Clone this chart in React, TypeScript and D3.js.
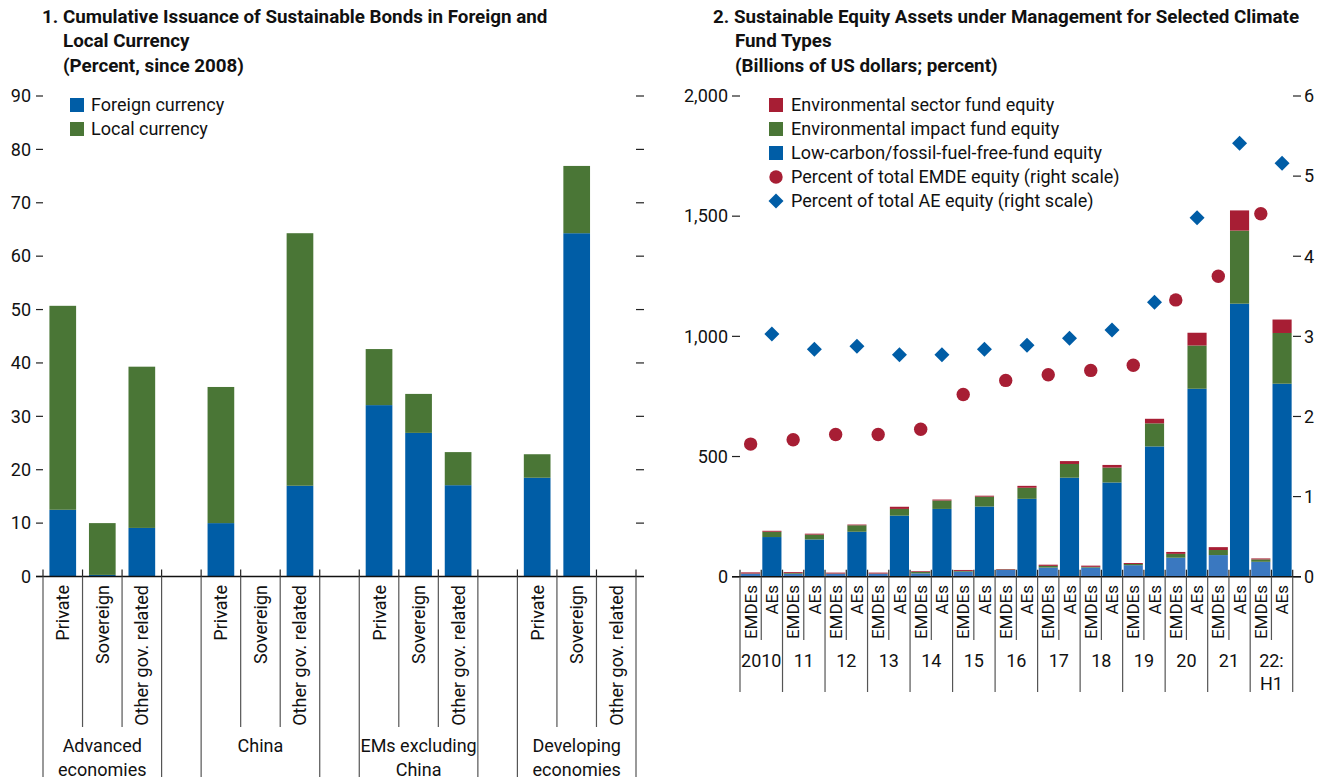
import React from "react";
import * as d3 from "d3";

// ---------- Panel 1 data ----------
const groups1 = ["Advanced economies", "China", "EMs excluding China", "Developing economies"];
const groupLines1 = [["Advanced", "economies"], ["China"], ["EMs excluding", "China"], ["Developing", "economies"]];
const issuers1 = ["Private", "Sovereign", "Other gov. related"];
// foreign currency, per group x issuer
const foreign1 = [
  [12.5, 0.3, 9.1],
  [10.0, 0, 17.0],
  [32.1, 26.9, 17.1],
  [18.5, 64.3, 0],
];
const local1 = [
  [38.2, 9.7, 30.2],
  [25.5, 0, 47.3],
  [10.5, 7.3, 6.2],
  [4.4, 12.6, 0],
];
const yTicks1 = [0, 10, 20, 30, 40, 50, 60, 70, 80, 90];

// ---------- Panel 2 data ----------
const years2 = ["2010", "11", "12", "13", "14", "15", "16", "17", "18", "19", "20", "21", "22:|H1"];
const regions2 = ["EMDEs", "AEs"];
const emdeLowCarbon = [12, 12, 12, 12, 14, 21, 28, 38, 38, 48, 79, 90, 62];
const emdeImpact = [1, 3, 1, 1, 6, 3, 2, 7, 3, 5, 16, 21, 10];
const emdeSector = [5, 4, 4, 4, 3, 4, 2, 5, 5, 4, 8, 12, 4];
const aeLowCarbon = [165, 155, 187, 254, 282, 292, 324, 412, 392, 542, 782, 1136, 803];
const aeImpact = [22, 20, 27, 28, 35, 41, 46, 57, 62, 96, 180, 304, 211];
const aeSector = [4, 4, 3, 9, 4, 4, 8, 12, 11, 19, 53, 84, 56];
const emdePct = [1.655, 1.71, 1.775, 1.775, 1.84, 2.275, 2.45, 2.52, 2.575, 2.64, 3.455, 3.75, 4.53];
const aePct = [3.03, 2.84, 2.875, 2.77, 2.77, 2.84, 2.89, 2.975, 3.08, 3.425, 4.48, 5.41, 5.16];
const yTicks2L = [0, 500, 1000, 1500, 2000];
const yTicks2R = [0, 1, 2, 3, 4, 5, 6];

const BLUE = "#005da6";
const LBLUE = "#3a78c0";
const GREEN = "#4a7636";
const RED = "#a71e34";
const LINE = "#555";
const FONT = "'Liberation Sans Narrow', 'Arial Narrow', 'Roboto', sans-serif";
const TITLE_SIZE = 18.8;

function Panel1() {
  const base = 576.5;
  const y = d3.scaleLinear().domain([0, 90]).range([base, 96]);
  const slots: { key: string; g: number; i: number }[] = [];
  groups1.forEach((g, gi) => {
    issuers1.forEach((s, si) => slots.push({ key: `${gi}-${si}`, g: gi, i: si }));
    if (gi < groups1.length - 1) slots.push({ key: `gap${gi}`, g: gi, i: -1 });
  });
  const x = d3.scaleBand().domain(slots.map((s) => s.key)).range([43, 636]).padding(0);
  const bw = x.bandwidth();
  const barW = bw * 0.675;
  const boundaries = slots.map((s) => x(s.key)!).concat([636]);
  return (
    <g fontFamily={FONT}>
      <text fontWeight="bold" fontSize={TITLE_SIZE} fill="#111">
        <tspan x={42} y={23}>1. Cumulative Issuance of Sustainable Bonds in Foreign and</tspan>
        <tspan x={63} y={47}>Local Currency</tspan>
        <tspan x={63} y={72}>(Percent, since 2008)</tspan>
      </text>
      {yTicks1.map((t) => (
        <g key={t}>
          <line x1={36} x2={43} y1={y(t)} y2={y(t)} stroke="#222" strokeWidth={1.2} />
          <text x={31} y={y(t)} dy="0.35em" textAnchor="end" fontSize={18} fill="#111">{t}</text>
          {t > 0 && <line x1={636} x2={644} y1={y(t)} y2={y(t)} stroke="#222" strokeWidth={1.2} />}
        </g>
      ))}
      {slots.filter((s) => s.i >= 0).map((s) => {
        const f = foreign1[s.g][s.i];
        const l = local1[s.g][s.i];
        const cx = x(s.key)! + bw / 2;
        return (
          <g key={s.key}>
            {f > 0 && <rect x={cx - barW / 2} width={barW} y={y(f)} height={base - y(f)} fill={BLUE} />}
            {l > 0 && <rect x={cx - barW / 2} width={barW} y={y(f + l)} height={y(f) - y(f + l)} fill={GREEN} />}
            <text transform={`translate(${cx},585) rotate(-90)`} dy="0.36em" textAnchor="end" fontSize={18} fill="#111">
              {issuers1[s.i]}
            </text>
          </g>
        );
      })}
      <line x1={36} x2={644} y1={base} y2={base} stroke="#111" strokeWidth={1.5} />
      {boundaries.map((b, k) => (
        <line key={k} x1={b} x2={b} y1={base - 7} y2={base} stroke="#222" strokeWidth={1.2} />
      ))}
      {slots.filter((s) => s.i >= 0).map((s) => {
        const left = x(s.key)!;
        const isGroupStart = s.i === 0;
        return <line key={s.key + "l"} x1={left} x2={left} y1={base} y2={isGroupStart ? 777 : 727} stroke={LINE} strokeWidth={1.2} />;
      })}
      {groups1.map((g, gi) => {
        const right = x(`${gi}-2`)! + bw;
        const left = x(`${gi}-0`)!;
        const cx = (left + right) / 2;
        return (
          <g key={g}>
            <line x1={right} x2={right} y1={base} y2={777} stroke={LINE} strokeWidth={1.2} />
            {groupLines1[gi].map((ln, li) => (
              <text key={li} x={cx} y={752 + li * 23.5} textAnchor="middle" fontSize={18} fill="#111">{ln}</text>
            ))}
          </g>
        );
      })}
      {[["Foreign currency", BLUE], ["Local currency", GREEN]].map(([lab, c], k) => (
        <g key={lab}>
          <rect x={70} y={98 + k * 24} width={14} height={14} fill={c} />
          <text x={91} y={105 + k * 24} dy="0.36em" fontSize={18} fill="#111">{lab}</text>
        </g>
      ))}
    </g>
  );
}

function Panel2() {
  const base = 576.7;
  const y = d3.scaleLinear().domain([0, 2000]).range([base, 96]);
  const yp = d3.scaleLinear().domain([0, 6]).range([base, 96]);
  const slots: { key: string; yi: number; r: number }[] = [];
  years2.forEach((yr, yi) => regions2.forEach((r, ri) => slots.push({ key: `${yi}-${ri}`, yi, r: ri })));
  const x = d3.scaleBand().domain(slots.map((s) => s.key)).range([740, 1292.7]).padding(0);
  const bw = x.bandwidth();
  const barW = bw * 0.9;
  const cxOf = (k: string) => x(k)! + bw / 2;
  const diamond = (cx: number, cy: number, r: number) => `M${cx},${cy - r}L${cx + r},${cy}L${cx},${cy + r}L${cx - r},${cy}Z`;
  return (
    <g fontFamily={FONT}>
      <text fontWeight="bold" fontSize={TITLE_SIZE} fill="#111">
        <tspan x={713} y={23}>2. Sustainable Equity Assets under Management for Selected Climate</tspan>
        <tspan x={735} y={47}>Fund Types</tspan>
        <tspan x={735} y={72}>(Billions of US dollars; percent)</tspan>
      </text>
      {yTicks2L.map((t) => (
        <g key={t}>
          <line x1={732} x2={740} y1={y(t)} y2={y(t)} stroke="#222" strokeWidth={1.2} />
          <text x={728} y={y(t)} dy="0.35em" textAnchor="end" fontSize={18} fill="#111">{d3.format(",")(t)}</text>
        </g>
      ))}
      {yTicks2R.map((t) => (
        <g key={t}>
          <line x1={1293} x2={1301} y1={yp(t)} y2={yp(t)} stroke="#222" strokeWidth={1.2} />
          <text x={1304} y={yp(t)} dy="0.35em" fontSize={18} fill="#111">{t}</text>
        </g>
      ))}
      {years2.map((yr, yi) => {
        const stacks = [
          [emdeLowCarbon[yi], emdeImpact[yi], emdeSector[yi]],
          [aeLowCarbon[yi], aeImpact[yi], aeSector[yi]],
        ];
        return stacks.map((st, ri) => {
          const k = `${yi}-${ri}`;
          const cx = cxOf(k);
          const c0 = st[0], c1 = st[0] + st[1], c2 = c1 + st[2];
          return (
            <g key={k}>
              <rect x={cx - barW / 2} width={barW} y={y(c0)} height={base - y(c0)} fill={ri === 0 ? LBLUE : BLUE} />
              <rect x={cx - barW / 2} width={barW} y={y(c1)} height={y(c0) - y(c1)} fill={GREEN} />
              <rect x={cx - barW / 2} width={barW} y={y(c2)} height={y(c1) - y(c2)} fill={RED} />
              <text transform={`translate(${cx},585) rotate(-90)`} dy="0.36em" textAnchor="end" fontSize={17} fill="#111">
                {regions2[ri]}
              </text>
            </g>
          );
        });
      })}
      <line x1={732} x2={1301} y1={base} y2={base} stroke="#111" strokeWidth={1.5} />
      {slots.map((s) => (
        <line key={s.key + "t"} x1={x(s.key)!} x2={x(s.key)!} y1={base - 7} y2={base} stroke="#222" strokeWidth={1.2} />
      ))}
      <line x1={1292.7} x2={1292.7} y1={base - 7} y2={base} stroke="#222" strokeWidth={1.2} />
      {slots.map((s) => (
        <line key={s.key + "s"} x1={x(s.key)!} x2={x(s.key)!} y1={base} y2={s.r === 0 ? 692 : 640} stroke={LINE} strokeWidth={1.2} />
      ))}
      <line x1={1292.7} x2={1292.7} y1={base} y2={692} stroke={LINE} strokeWidth={1.2} />
      {years2.map((yr, yi) => {
        const cx = x(`${yi}-1`)!;
        return yr.split("|").map((ln, li) => (
          <text key={yr + li} x={cx} y={667 + li * 23} textAnchor="middle" fontSize={18} fill="#111">{ln}</text>
        ));
      })}
      {emdePct.map((v, i) => (
        <circle key={"c" + i} cx={cxOf(`${i}-0`)} cy={yp(v)} r={6.7} fill={RED} />
      ))}
      {aePct.map((v, i) => (
        <path key={"d" + i} d={diamond(cxOf(`${i}-1`), yp(v), 7.5)} fill={BLUE} />
      ))}
      {[
        ["Environmental sector fund equity", RED, "sq"],
        ["Environmental impact fund equity", GREEN, "sq"],
        ["Low-carbon/fossil-fuel-free-fund equity", BLUE, "sq"],
        ["Percent of total EMDE equity (right scale)", RED, "c"],
        ["Percent of total AE equity (right scale)", BLUE, "d"],
      ].map(([lab, c, t], k) => {
        const cy = 105 + k * 24;
        return (
          <g key={lab}>
            {t === "sq" && <rect x={769} y={cy - 7} width={14} height={14} fill={c} />}
            {t === "c" && <circle cx={776} cy={cy} r={6.7} fill={c} />}
            {t === "d" && <path d={diamond(776, cy, 7.5)} fill={c} />}
            <text x={791} y={cy} dy="0.36em" fontSize={18} fill="#111">{lab}</text>
          </g>
        );
      })}
    </g>
  );
}

export default function App() {
  return (
    <svg width={1327} height={777} style={{ position: "absolute", left: 0, top: 0, background: "#fff" }}>
      <rect width={1327} height={777} fill="#fff" />
      <Panel1 />
      <Panel2 />
    </svg>
  );
}
